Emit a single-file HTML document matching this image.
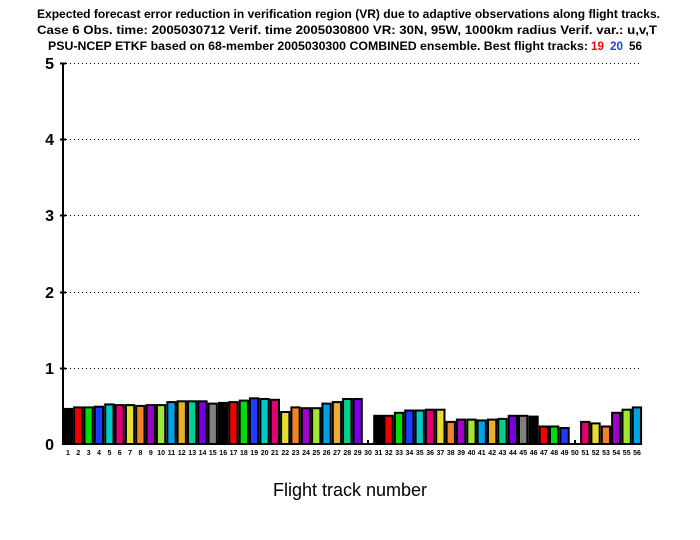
<!DOCTYPE html>
<html><head><meta charset="utf-8"><style>
body{margin:0;background:#fff;width:700px;height:540px;overflow:hidden}
svg{display:block}
.xl{font-family:"Liberation Sans",sans-serif;font-size:7px;font-weight:bold;text-anchor:middle}
.yl{font-family:"Liberation Sans",sans-serif;font-size:16px;font-weight:bold;text-anchor:end}
</style></head><body>
<svg width="700" height="540" xmlns="http://www.w3.org/2000/svg">
<g font-family="Liberation Sans, sans-serif" font-size="12" font-weight="bold">
<text x="37" y="18" textLength="623" lengthAdjust="spacingAndGlyphs">Expected forecast error reduction in verification region (VR) due to adaptive observations along flight tracks.</text>
<text x="37" y="34" textLength="620" lengthAdjust="spacingAndGlyphs">Case 6   Obs. time: 2005030712   Verif. time 2005030800   VR: 30N, 95W, 1000km radius   Verif. var.: u,v,T</text>
<text x="48" y="50" textLength="540" lengthAdjust="spacingAndGlyphs">PSU-NCEP ETKF based on 68-member 2005030300 COMBINED ensemble.  Best flight tracks:</text>
<text x="591" y="50" fill="#f00000" textLength="13" lengthAdjust="spacingAndGlyphs">19</text>
<text x="610" y="50" fill="#1e3cff" textLength="13" lengthAdjust="spacingAndGlyphs">20</text>
<text x="629" y="50" textLength="13" lengthAdjust="spacingAndGlyphs">56</text>
</g>
<g stroke="#000" stroke-width="1" stroke-dasharray="1,3">
<line x1="66" y1="63.5" x2="640" y2="63.5"/>
<line x1="66" y1="139.5" x2="640" y2="139.5"/>
<line x1="66" y1="215.5" x2="640" y2="215.5"/>
<line x1="66" y1="292.5" x2="640" y2="292.5"/>
<line x1="66" y1="368.5" x2="640" y2="368.5"/>
</g>
<g class="yl">
<text x="54" y="69">5</text><text x="54" y="145">4</text><text x="54" y="221">3</text><text x="54" y="298">2</text><text x="54" y="374">1</text><text x="54" y="450">0</text>
</g>
<g stroke="#000" stroke-width="2">
<line x1="63" y1="63" x2="63" y2="445"/>
<line x1="60" y1="63.5" x2="66" y2="63.5"/><line x1="60" y1="139.5" x2="66" y2="139.5"/><line x1="60" y1="215.5" x2="66" y2="215.5"/><line x1="60" y1="292.5" x2="66" y2="292.5"/><line x1="60" y1="368.5" x2="66" y2="368.5"/>
<line x1="62" y1="444" x2="642" y2="444"/>
<line x1="368" y1="440" x2="368" y2="444"/><line x1="575" y1="440" x2="575" y2="444"/>
</g>
<g stroke="#000" stroke-width="2">
<rect x="63.8" y="408.9" width="8.3" height="35.1" fill="#000"/>
<rect x="74.1" y="407.4" width="8.3" height="36.6" fill="#f00000"/>
<rect x="84.5" y="407.4" width="8.3" height="36.6" fill="#00dc00"/>
<rect x="94.8" y="406.7" width="8.3" height="37.3" fill="#1e3cff"/>
<rect x="105.2" y="404.4" width="8.3" height="39.6" fill="#00c8c8"/>
<rect x="115.5" y="405.1" width="8.3" height="38.9" fill="#dc0070"/>
<rect x="125.9" y="405.1" width="8.3" height="38.9" fill="#e6dc32"/>
<rect x="136.2" y="405.9" width="8.3" height="38.1" fill="#f08228"/>
<rect x="146.6" y="405.1" width="8.3" height="38.9" fill="#a000c8"/>
<rect x="156.9" y="405.1" width="8.3" height="38.9" fill="#a0e632"/>
<rect x="167.3" y="402.1" width="8.3" height="41.9" fill="#00a0e6"/>
<rect x="177.6" y="401.3" width="8.3" height="42.7" fill="#e6af2d"/>
<rect x="188.0" y="401.3" width="8.3" height="42.7" fill="#00d28c"/>
<rect x="198.3" y="401.3" width="8.3" height="42.7" fill="#7800dc"/>
<rect x="208.6" y="403.6" width="8.3" height="40.4" fill="#808080"/>
<rect x="219.0" y="402.9" width="8.3" height="41.1" fill="#000"/>
<rect x="229.3" y="402.1" width="8.3" height="41.9" fill="#f00000"/>
<rect x="239.7" y="400.6" width="8.3" height="43.4" fill="#00dc00"/>
<rect x="250.0" y="398.3" width="8.3" height="45.7" fill="#1e3cff"/>
<rect x="260.4" y="399.0" width="8.3" height="45.0" fill="#00c8c8"/>
<rect x="270.7" y="399.8" width="8.3" height="44.2" fill="#dc0070"/>
<rect x="281.1" y="412.0" width="8.3" height="32.0" fill="#e6dc32"/>
<rect x="291.4" y="407.4" width="8.3" height="36.6" fill="#f08228"/>
<rect x="301.8" y="408.2" width="8.3" height="35.8" fill="#a000c8"/>
<rect x="312.1" y="408.2" width="8.3" height="35.8" fill="#a0e632"/>
<rect x="322.4" y="403.6" width="8.3" height="40.4" fill="#00a0e6"/>
<rect x="332.8" y="402.1" width="8.3" height="41.9" fill="#e6af2d"/>
<rect x="343.1" y="399.0" width="8.3" height="45.0" fill="#00d28c"/>
<rect x="353.5" y="399.0" width="8.3" height="45.0" fill="#7800dc"/>
<rect x="374.2" y="415.8" width="8.3" height="28.2" fill="#000"/>
<rect x="384.5" y="415.8" width="8.3" height="28.2" fill="#f00000"/>
<rect x="394.9" y="412.8" width="8.3" height="31.2" fill="#00dc00"/>
<rect x="405.2" y="410.5" width="8.3" height="33.5" fill="#1e3cff"/>
<rect x="415.6" y="410.5" width="8.3" height="33.5" fill="#00c8c8"/>
<rect x="425.9" y="409.7" width="8.3" height="34.3" fill="#dc0070"/>
<rect x="436.2" y="409.7" width="8.3" height="34.3" fill="#e6dc32"/>
<rect x="446.6" y="421.9" width="8.3" height="22.1" fill="#f08228"/>
<rect x="456.9" y="419.6" width="8.3" height="24.4" fill="#a000c8"/>
<rect x="467.3" y="419.6" width="8.3" height="24.4" fill="#a0e632"/>
<rect x="477.6" y="420.4" width="8.3" height="23.6" fill="#00a0e6"/>
<rect x="488.0" y="419.6" width="8.3" height="24.4" fill="#e6af2d"/>
<rect x="498.3" y="418.9" width="8.3" height="25.1" fill="#00d28c"/>
<rect x="508.7" y="415.8" width="8.3" height="28.2" fill="#7800dc"/>
<rect x="519.0" y="415.8" width="8.3" height="28.2" fill="#808080"/>
<rect x="529.4" y="416.6" width="8.3" height="27.4" fill="#000"/>
<rect x="539.7" y="426.5" width="8.3" height="17.5" fill="#f00000"/>
<rect x="550.0" y="426.5" width="8.3" height="17.5" fill="#00dc00"/>
<rect x="560.4" y="428.0" width="8.3" height="16.0" fill="#1e3cff"/>
<rect x="581.1" y="421.9" width="8.3" height="22.1" fill="#dc0070"/>
<rect x="591.4" y="423.4" width="8.3" height="20.6" fill="#e6dc32"/>
<rect x="601.8" y="426.5" width="8.3" height="17.5" fill="#f08228"/>
<rect x="612.1" y="412.8" width="8.3" height="31.2" fill="#a000c8"/>
<rect x="622.5" y="409.7" width="8.3" height="34.3" fill="#a0e632"/>
<rect x="632.8" y="407.4" width="8.3" height="36.6" fill="#00a0e6"/>
</g>
<g class="xl">
<text x="68.0" y="455">1</text><text x="78.3" y="455">2</text><text x="88.7" y="455">3</text><text x="99.0" y="455">4</text><text x="109.4" y="455">5</text><text x="119.7" y="455">6</text><text x="130.1" y="455">7</text><text x="140.4" y="455">8</text><text x="150.8" y="455">9</text><text x="161.1" y="455">10</text><text x="171.5" y="455">11</text><text x="181.8" y="455">12</text><text x="192.2" y="455">13</text><text x="202.5" y="455">14</text><text x="212.8" y="455">15</text><text x="223.2" y="455">16</text><text x="233.5" y="455">17</text><text x="243.9" y="455">18</text><text x="254.2" y="455">19</text><text x="264.6" y="455">20</text><text x="274.9" y="455">21</text><text x="285.3" y="455">22</text><text x="295.6" y="455">23</text><text x="306.0" y="455">24</text><text x="316.3" y="455">25</text><text x="326.6" y="455">26</text><text x="337.0" y="455">27</text><text x="347.3" y="455">28</text><text x="357.7" y="455">29</text><text x="368.0" y="455">30</text><text x="378.4" y="455">31</text><text x="388.7" y="455">32</text><text x="399.1" y="455">33</text><text x="409.4" y="455">34</text><text x="419.8" y="455">35</text><text x="430.1" y="455">36</text><text x="440.4" y="455">37</text><text x="450.8" y="455">38</text><text x="461.1" y="455">39</text><text x="471.5" y="455">40</text><text x="481.8" y="455">41</text><text x="492.2" y="455">42</text><text x="502.5" y="455">43</text><text x="512.9" y="455">44</text><text x="523.2" y="455">45</text><text x="533.6" y="455">46</text><text x="543.9" y="455">47</text><text x="554.2" y="455">48</text><text x="564.6" y="455">49</text><text x="574.9" y="455">50</text><text x="585.3" y="455">51</text><text x="595.6" y="455">52</text><text x="606.0" y="455">53</text><text x="616.3" y="455">54</text><text x="626.7" y="455">55</text><text x="637.0" y="455">56</text>
</g>
<text x="350" y="496" text-anchor="middle" font-family="Liberation Sans, sans-serif" font-size="18">Flight track number</text>
</svg>
</body></html>
